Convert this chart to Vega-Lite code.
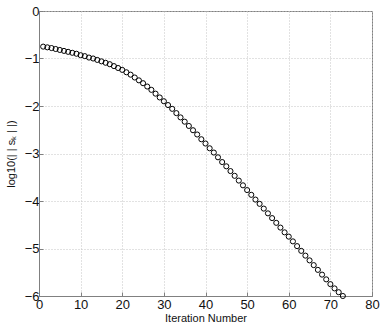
{
  "$schema": "https://vega.github.io/schema/vega-lite/v6.json",
  "width": 333,
  "height": 285,
  "autosize": {"type": "none"},
  "padding": {"left": 39, "top": 11, "right": 10, "bottom": 31},
  "background": "white",
  "config": {
    "font": "Liberation Sans",
    "view": {"stroke": "#808080", "strokeWidth": 1},
    "axis": {
      "domainColor": "#808080",
      "tickColor": "#808080",
      "tickSize": -4,
      "labelColor": "#111111",
      "labelFontSize": 13,
      "titleColor": "#111111",
      "titleFontWeight": "normal",
      "titleFontSize": 11,
      "gridColor": "#c4c4c4",
      "gridDash": [1, 2],
      "gridOpacity": 1
    }
  },
  "data": {
    "values": [
      {"iter": 1, "val": -0.75}, {"iter": 2, "val": -0.765}, {"iter": 3, "val": -0.78},
      {"iter": 4, "val": -0.80}, {"iter": 5, "val": -0.82}, {"iter": 6, "val": -0.84},
      {"iter": 7, "val": -0.86}, {"iter": 8, "val": -0.88}, {"iter": 9, "val": -0.90},
      {"iter": 10, "val": -0.93}, {"iter": 11, "val": -0.95}, {"iter": 12, "val": -0.98},
      {"iter": 13, "val": -1.00}, {"iter": 14, "val": -1.03}, {"iter": 15, "val": -1.06},
      {"iter": 16, "val": -1.09}, {"iter": 17, "val": -1.12}, {"iter": 18, "val": -1.16},
      {"iter": 19, "val": -1.20}, {"iter": 20, "val": -1.24}, {"iter": 21, "val": -1.29},
      {"iter": 22, "val": -1.34}, {"iter": 23, "val": -1.40}, {"iter": 24, "val": -1.46},
      {"iter": 25, "val": -1.52}, {"iter": 26, "val": -1.59}, {"iter": 27, "val": -1.66},
      {"iter": 28, "val": -1.74}, {"iter": 29, "val": -1.82}, {"iter": 30, "val": -1.90},
      {"iter": 31, "val": -1.98}, {"iter": 32, "val": -2.06}, {"iter": 33, "val": -2.15},
      {"iter": 34, "val": -2.24}, {"iter": 35, "val": -2.33}, {"iter": 36, "val": -2.42},
      {"iter": 37, "val": -2.51}, {"iter": 38, "val": -2.60}, {"iter": 39, "val": -2.70},
      {"iter": 40, "val": -2.79}, {"iter": 41, "val": -2.89}, {"iter": 42, "val": -2.98},
      {"iter": 43, "val": -3.08}, {"iter": 44, "val": -3.18}, {"iter": 45, "val": -3.27},
      {"iter": 46, "val": -3.37}, {"iter": 47, "val": -3.47}, {"iter": 48, "val": -3.57},
      {"iter": 49, "val": -3.67}, {"iter": 50, "val": -3.77}, {"iter": 51, "val": -3.87},
      {"iter": 52, "val": -3.97}, {"iter": 53, "val": -4.06}, {"iter": 54, "val": -4.16},
      {"iter": 55, "val": -4.26}, {"iter": 56, "val": -4.36}, {"iter": 57, "val": -4.46},
      {"iter": 58, "val": -4.56}, {"iter": 59, "val": -4.66}, {"iter": 60, "val": -4.75},
      {"iter": 61, "val": -4.85}, {"iter": 62, "val": -4.95}, {"iter": 63, "val": -5.05},
      {"iter": 64, "val": -5.15}, {"iter": 65, "val": -5.25}, {"iter": 66, "val": -5.35},
      {"iter": 67, "val": -5.45}, {"iter": 68, "val": -5.55}, {"iter": 69, "val": -5.65},
      {"iter": 70, "val": -5.75}, {"iter": 71, "val": -5.84}, {"iter": 72, "val": -5.92},
      {"iter": 73, "val": -6.00}
    ]
  },
  "mark": {"type": "point", "shape": "circle", "filled": false, "stroke": "black", "strokeWidth": 1, "size": 26, "opacity": 1, "clip": false},
  "encoding": {
    "x": {
      "field": "iter", "type": "quantitative",
      "scale": {"domain": [0, 80], "nice": false, "zero": false},
      "axis": {"title": "Iteration Number", "values": [0,10,20,30,40,50,60,70,80], "labelPadding": 6, "titlePadding": 1, "labelFlush": false}
    },
    "y": {
      "field": "val", "type": "quantitative",
      "scale": {"domain": [-6, 0], "nice": false, "zero": false},
      "axis": {"title": "log10(| | sₖ | |)", "values": [-6,-5,-4,-3,-2,-1,0], "labelPadding": 4, "titlePadding": 8, "format": "d", "labelFlush": false}
    }
  }
}
